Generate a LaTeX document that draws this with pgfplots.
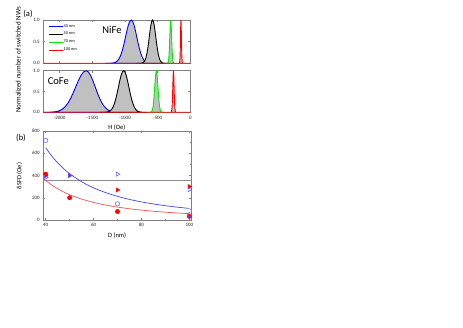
\documentclass[border=0pt]{standalone}
\usepackage{fontspec}
\setmainfont{Carlito}
\usepackage{pgfplots}
\pgfplotsset{compat=1.18}

\definecolor{fillgray}{RGB}{192,192,192}
\definecolor{axgray}{RGB}{128,128,128}
\definecolor{fitblue}{RGB}{70,70,255}
\definecolor{fitred}{RGB}{255,80,80}
\definecolor{mkblue}{RGB}{90,90,255}
\definecolor{lgreen}{RGB}{0,235,0}

\pgfplotsset{
  panel/.style={
    scale only axis,
    axis line style={axgray, line width=0.6pt},
    tick style={axgray, line width=0.4pt},
    tick align=inside,
    major tick length=2pt, minor tick length=1.2pt,
    tick label style={font=\fontsize{5}{6}\selectfont, text=black!85},
    /pgf/number format/assume math mode=true,
    /pgf/number format/1000 sep={},
    label style={font=\fontsize{6.5}{7}\selectfont},
  },
  dist/.style={line width=0.9pt, fill=fillgray},
}

\begin{document}
\begin{tikzpicture}
\useasboundingbox (0,0) rectangle (463pt,328pt);

% (a) NiFe
\begin{axis}[panel, at={(43.3pt,264.7pt)}, anchor=south west,
  width=147pt, height=43.3pt,
  xmin=-2250, xmax=0, ymin=0, ymax=1,
  xtick={-2000,-1500,...,0}, xticklabels={},
  ytick={0,0.5,1},
  yticklabel style={/pgf/number format/.cd, fixed, fixed zerofill, precision=1},
  legend style={at={(0.032,0.92)}, anchor=north west, draw=none, fill=none,
    font=\fontsize{4.3}{5}\selectfont, row sep=2.4pt, inner sep=0pt,
    nodes={inner sep=0.6pt}},
  legend cell align=left,
  legend image code/.code={\draw[#1,fill=none] (0pt,0pt) -- (14pt,0pt);},
]
\addplot[blue, dist] coordinates {(-1300,0) (-1256,0.0003) (-1212,0.0022) (-1168,0.0111) (-1146,0.0228) (-1124,0.0439) (-1102,0.0796) (-1080,0.1353) (-1058,0.2163) (-1036,0.3247) (-1014,0.4578) (-992,0.6065) (-970,0.7548) (-948,0.8825) (-926,0.9692) (-904,1) (-883,0.9692) (-861.5,0.8825) (-840,0.7548) (-819,0.6065) (-798,0.4578) (-776.5,0.3247) (-755,0.2163) (-734,0.1353) (-713,0.0796) (-691.5,0.0439) (-670,0.0228) (-649,0.0111) (-606.5,0.0022) (-564,0.0003) (-520,0)} \closedcycle;
\addlegendentry{40 nm}
\addplot[black, dist] coordinates {(-820,0) (-778,0.0003) (-753,0.0022) (-728,0.0111) (-703,0.0439) (-690.5,0.0796) (-678,0.1353) (-665.5,0.2163) (-653,0.3247) (-640.5,0.4578) (-628,0.6065) (-615.5,0.7548) (-603,0.8825) (-590.5,0.9692) (-578,1) (-565.5,0.9692) (-553,0.8825) (-540.5,0.7548) (-528,0.6065) (-515.5,0.4578) (-503,0.3247) (-490.5,0.2163) (-478,0.1353) (-465.5,0.0796) (-453,0.0439) (-428,0.0111) (-403,0.0022) (-378,0.0003) (-340,0)} \closedcycle;
\addlegendentry{50 nm}
\addplot[lgreen, dist] coordinates {(-370,0) (-356,0) (-342,0.0111) (-335,0.0439) (-328,0.1353) (-321,0.3247) (-314,0.6065) (-307,0.8825) (-300,1) (-293,0.8825) (-286,0.6065) (-279,0.3247) (-272,0.1353) (-265,0.0439) (-258,0.0111) (-244,0) (-230,0)} \closedcycle;
\addlegendentry{70 nm}
\addplot[red, dist] coordinates {(-2250,0) (-171,0) (-164,0.0111) (-157,0.1353) (-153.5,0.3247) (-150,0.6065) (-146.5,0.8825) (-143,1) (-139.5,0.8825) (-136,0.6065) (-132.5,0.3247) (-129,0.1353) (-122,0.0111) (-115,0) (0,0)} \closedcycle;
\addlegendentry{100 nm}
\node[font=\fontsize{10.5}{12}\selectfont] at (rel axis cs:0.467,0.77) {NiFe};
\end{axis}

% (a) CoFe
\begin{axis}[panel, at={(43.3pt,215.7pt)}, anchor=south west,
  width=147pt, height=41.6pt,
  xmin=-2250, xmax=0, ymin=0, ymax=1,
  xtick={-2000,-1500,...,0},
  ytick={0,0.5,1},
  yticklabel style={/pgf/number format/.cd, fixed, fixed zerofill, precision=1},
  xlabel={H (Oe)}, xlabel style={yshift=1.5pt},
]
\addplot[blue, dist] coordinates {(-2250,0) (-2235,0.0003) (-2155,0.0022) (-2075,0.0111) (-2035,0.0228) (-1995,0.0439) (-1955,0.0796) (-1915,0.1353) (-1875,0.2163) (-1835,0.3247) (-1795,0.4578) (-1755,0.6065) (-1715,0.7548) (-1675,0.8825) (-1635,0.9692) (-1595,1) (-1560,0.9692) (-1525,0.8825) (-1490,0.7548) (-1455,0.6065) (-1420,0.4578) (-1385,0.3247) (-1350,0.2163) (-1315,0.1353) (-1280,0.0796) (-1245,0.0439) (-1210,0.0228) (-1175,0.0111) (-1105,0.0022) (-1035,0.0003) (-1000,0)} \closedcycle;
\addplot[black, dist] coordinates {(-1380,0) (-1340,0.0003) (-1300,0.0022) (-1260,0.0111) (-1240,0.0228) (-1220,0.0439) (-1200,0.0796) (-1180,0.1353) (-1160,0.2163) (-1140,0.3247) (-1120,0.4578) (-1100,0.6065) (-1080,0.7548) (-1060,0.8825) (-1040,0.9692) (-1020,1) (-1000,0.9692) (-980,0.8825) (-960,0.7548) (-940,0.6065) (-920,0.4578) (-900,0.3247) (-880,0.2163) (-860,0.1353) (-840,0.0796) (-820,0.0439) (-800,0.0228) (-780,0.0111) (-740,0.0022) (-700,0.0003) (-660,0)} \closedcycle;
\addplot[lgreen, dist] coordinates {(-640,0) (-620,0) (-595,0.0111) (-582.5,0.0439) (-570,0.1353) (-557.5,0.3247) (-545,0.6065) (-532.5,0.8825) (-520,1) (-507.5,0.8825) (-495,0.6065) (-482.5,0.3247) (-470,0.1353) (-457.5,0.0439) (-445,0.0111) (-420,0) (-400,0)} \closedcycle;
\addplot[red, dist] coordinates {(-2250,0) (-298,0) (-288,0.0111) (-278,0.1353) (-273,0.3247) (-268,0.6065) (-263,0.8825) (-258,1) (-253,0.8825) (-248,0.6065) (-243,0.3247) (-238,0.1353) (-228,0.0111) (-218,0) (0,0)} \closedcycle;
\node[font=\fontsize{10.5}{12}\selectfont] at (rel axis cs:0.102,0.75) {CoFe};
\end{axis}

% (b)
\begin{axis}[panel, at={(43.3pt,108pt)}, anchor=south west,
  width=147.7pt, height=89pt,
  xmin=39, xmax=100.7, ymin=0, ymax=800,
  xtick={40,60,80,100}, ytick={0,200,...,800},
  minor x tick num=1, minor y tick num=1,
  xlabel={D (nm)}, xlabel style={yshift=1.5pt},
  clip=false,
]
\addplot[axgray!90, line width=0.6pt] coordinates {(39,360) (100.7,360)};
\addplot[fitblue, line width=0.7pt, smooth] coordinates {(40,650) (42.5,575.8) (45,513.6) (47.5,460.9) (50,416) (55,343.8) (60,288.9) (65,246.2) (70,212.2) (75,184.9) (80,162.5) (85,143.9) (90,128.4) (95,115.2) (100,104)};
\addplot[fitred, line width=0.7pt, smooth] coordinates {(40,355) (42.5,314.5) (45,280.5) (47.5,251.7) (50,227.2) (55,187.8) (60,157.8) (65,134.4) (70,115.9) (75,101) (80,88.8) (85,78.6) (90,70.1) (95,62.9) (100,56.8)};
\addplot[only marks, red, mark=*, mark size=2.2pt] coordinates {(40,412) (50,200) (70,76) (100,33)};
\addplot[only marks, red, mark=triangle*, mark size=2.4pt, mark options={rotate=-90}] coordinates {(40,397) (50,400) (70,270) (100,300)};
\addplot[only marks, mkblue, mark=o, mark size=2.2pt, line width=0.5pt] coordinates {(40,715) (70,145) (100,48)};
\addplot[only marks, mkblue, mark=triangle, mark size=2.4pt, line width=0.5pt, mark options={rotate=-90}] coordinates {(40,382) (50,400) (70,412) (100,273)};
\end{axis}

\node[rotate=90, font=\fontsize{7}{8}\selectfont] at (18.3pt,268pt) {Normalized number of switched NWs};
\node[rotate=90, font=\fontsize{6.5}{7}\selectfont] at (19.5pt,152pt) {δSFD (Oe)};
\node[font=\fontsize{8.5}{10}\selectfont] at (28pt,314.5pt) {(a)};
\node[font=\fontsize{8.5}{10}\selectfont] at (21pt,190pt) {(b)};
\end{tikzpicture}
\end{document}
